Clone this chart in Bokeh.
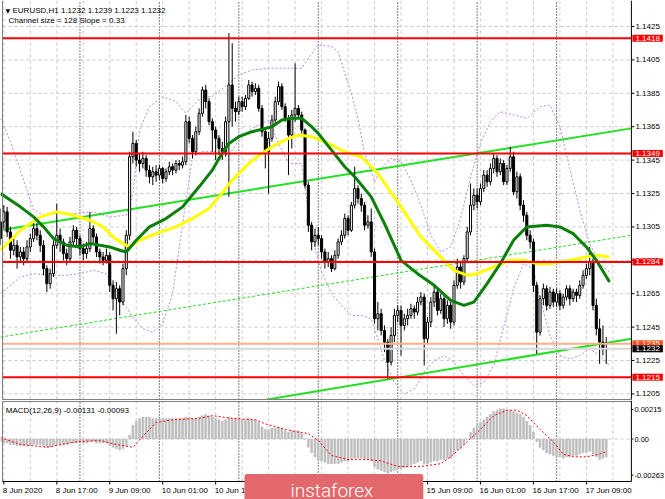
from bokeh.plotting import figure
from bokeh.layouts import column
from bokeh.models import Range1d, Label
from bokeh.embed import file_html
from bokeh.resources import INLINE
from bokeh.core.properties import value

# ---------------- data (EURUSD H1, 8 Jun 2020 00:00 .. 17 Jun 2020 15:00) ----------------
FIRST_OPEN = 1.1298
CLOSE = [
    # 8 Jun
    1.1308, 1.1314, 1.1302, 1.1291, 1.1294, 1.1287, 1.1290, 1.1286, 1.1293, 1.1298, 1.1304, 1.1300,
    1.1294, 1.1280, 1.1271, 1.1277, 1.1294, 1.1300, 1.1296, 1.1289, 1.1286, 1.1296, 1.1303, 1.1298,
    # 9 Jun
    1.1292, 1.1289, 1.1292, 1.1304, 1.1299, 1.1290, 1.1287, 1.1285, 1.1288, 1.1270, 1.1262, 1.1268,
    1.1260, 1.1280, 1.1300, 1.1347, 1.1355, 1.1345, 1.1343, 1.1346, 1.1339, 1.1335, 1.1338, 1.1336,
    # 10 Jun
    1.1340, 1.1334, 1.1338, 1.1341, 1.1339, 1.1343, 1.1342, 1.1344, 1.1368, 1.1358, 1.1350, 1.1362,
    1.1373, 1.1387, 1.1380, 1.1368, 1.1363, 1.1358, 1.1352, 1.1350, 1.1368, 1.1390, 1.1376, 1.1374,
    # 11 Jun
    1.1380, 1.1377, 1.1382, 1.1390, 1.1386, 1.1388, 1.1376, 1.1362, 1.1350, 1.1358, 1.1369, 1.1380,
    1.1389, 1.1377, 1.1370, 1.1360, 1.1372, 1.1376, 1.1372, 1.1363, 1.1330, 1.1306, 1.1296, 1.1300,
    # 12 Jun
    1.1298, 1.1290, 1.1284, 1.1286, 1.1280, 1.1288, 1.1296, 1.1300, 1.1310, 1.1303, 1.1318, 1.1328,
    1.1322, 1.1318, 1.1306, 1.1308, 1.1290, 1.1250, 1.1253, 1.1243, 1.1236, 1.1224, 1.1240, 1.1252,
    # 15 Jun
    1.1255, 1.1246, 1.1250, 1.1252, 1.1256, 1.1254, 1.1260, 1.1263, 1.1238, 1.1248, 1.1260, 1.1266,
    1.1255, 1.1262, 1.1250, 1.1258, 1.1248, 1.1270, 1.1281, 1.1272, 1.1286, 1.1302, 1.1318, 1.1324,
    # 16 Jun
    1.1320, 1.1328, 1.1336, 1.1332, 1.1340, 1.1346, 1.1338, 1.1343, 1.1332, 1.1340, 1.1347, 1.1326,
    1.1335, 1.1318, 1.1312, 1.1300, 1.1296, 1.1270, 1.1242, 1.1262, 1.1268, 1.1258, 1.1266, 1.1260,
    # 17 Jun
    1.1265, 1.1258, 1.1263, 1.1268, 1.1262, 1.1266, 1.1264, 1.1270, 1.1276, 1.1280, 1.1284, 1.1258,
    1.1244, 1.1236, 1.1232, 1.1232,
]
HIGH = [
    1.1316, 1.1318, 1.1317, 1.1305, 1.1298, 1.1297, 1.1293, 1.1293, 1.1297, 1.1301, 1.1309, 1.1307,
    1.1303, 1.1297, 1.1282, 1.1280, 1.1297, 1.1319, 1.1304, 1.1298, 1.1292, 1.1299, 1.1306, 1.1305,
    1.1300, 1.1295, 1.1296, 1.1314, 1.1306, 1.1301, 1.1292, 1.1290, 1.1292, 1.1290, 1.1273, 1.1272,
    1.1270, 1.1283, 1.1303, 1.1350, 1.1362, 1.1357, 1.1349, 1.1350, 1.1348, 1.1342, 1.1341, 1.1342,
    1.1342, 1.1341, 1.1340, 1.1344, 1.1343, 1.1345, 1.1345, 1.1347, 1.1372, 1.1371, 1.1360, 1.1365,
    1.1376, 1.1389, 1.1390, 1.1382, 1.1370, 1.1365, 1.1360, 1.1356, 1.1371, 1.1421, 1.1415, 1.1380,
    1.1383, 1.1383, 1.1384, 1.1393, 1.1392, 1.1391, 1.1390, 1.1378, 1.1364, 1.1362, 1.1372, 1.1383,
    1.1392, 1.1391, 1.1379, 1.1372, 1.1375, 1.1403, 1.1378, 1.1374, 1.1364, 1.1332, 1.1308, 1.1304,
    1.1305, 1.1300, 1.1292, 1.1290, 1.1288, 1.1291, 1.1298, 1.1303, 1.1313, 1.1312, 1.1320, 1.1341,
    1.1330, 1.1325, 1.1320, 1.1312, 1.1316, 1.1292, 1.1260, 1.1256, 1.1246, 1.1238, 1.1245, 1.1256,
    1.1258, 1.1258, 1.1253, 1.1256, 1.1259, 1.1258, 1.1263, 1.1266, 1.1265, 1.1251, 1.1263, 1.1270,
    1.1268, 1.1265, 1.1264, 1.1261, 1.1260, 1.1273, 1.1286, 1.1284, 1.1288, 1.1305, 1.1331, 1.1328,
    1.1328, 1.1331, 1.1339, 1.1339, 1.1343, 1.1349, 1.1348, 1.1346, 1.1345, 1.1342, 1.1353, 1.1350,
    1.1338, 1.1337, 1.1321, 1.1314, 1.1303, 1.1298, 1.1272, 1.1264, 1.1271, 1.1270, 1.1269, 1.1268,
    1.1268, 1.1267, 1.1265, 1.1270, 1.1270, 1.1268, 1.1268, 1.1273, 1.1279, 1.1283, 1.1293, 1.1286,
    1.1262, 1.1250, 1.1246, 1.1239,
]
LOW = [
    1.1294, 1.1304, 1.1299, 1.1286, 1.1288, 1.1280, 1.1284, 1.1282, 1.1284, 1.1290, 1.1296, 1.1297,
    1.1290, 1.1276, 1.1266, 1.1268, 1.1275, 1.1292, 1.1290, 1.1285, 1.1282, 1.1284, 1.1293, 1.1294,
    1.1288, 1.1285, 1.1286, 1.1290, 1.1295, 1.1287, 1.1283, 1.1282, 1.1283, 1.1266, 1.1255, 1.1241,
    1.1252, 1.1258, 1.1276, 1.1297, 1.1343, 1.1341, 1.1338, 1.1340, 1.1335, 1.1331, 1.1330, 1.1332,
    1.1333, 1.1331, 1.1332, 1.1336, 1.1336, 1.1337, 1.1339, 1.1340, 1.1342, 1.1355, 1.1346, 1.1348,
    1.1360, 1.1371, 1.1376, 1.1366, 1.1350, 1.1345, 1.1348, 1.1345, 1.1347, 1.1323, 1.1365, 1.1368,
    1.1372, 1.1374, 1.1375, 1.1381, 1.1383, 1.1384, 1.1374, 1.1359, 1.1340, 1.1325, 1.1356, 1.1366,
    1.1378, 1.1375, 1.1368, 1.1336, 1.1352, 1.1368, 1.1370, 1.1361, 1.1328, 1.1302, 1.1291, 1.1293,
    1.1294, 1.1286, 1.1280, 1.1281, 1.1278, 1.1279, 1.1286, 1.1294, 1.1298, 1.1300, 1.1302, 1.1316,
    1.1319, 1.1314, 1.1303, 1.1304, 1.1287, 1.1247, 1.1243, 1.1240, 1.1230, 1.1214, 1.1222, 1.1236,
    1.1248, 1.1228, 1.1243, 1.1246, 1.1250, 1.1250, 1.1252, 1.1258, 1.1222, 1.1235, 1.1245, 1.1257,
    1.1252, 1.1253, 1.1245, 1.1247, 1.1244, 1.1246, 1.1268, 1.1268, 1.1270, 1.1284, 1.1300, 1.1315,
    1.1316, 1.1318, 1.1326, 1.1329, 1.1330, 1.1337, 1.1335, 1.1336, 1.1330, 1.1330, 1.1338, 1.1324,
    1.1322, 1.1315, 1.1308, 1.1297, 1.1292, 1.1266, 1.1229, 1.1240, 1.1258, 1.1255, 1.1256, 1.1257,
    1.1257, 1.1255, 1.1256, 1.1261, 1.1258, 1.1260, 1.1260, 1.1262, 1.1268, 1.1274, 1.1276, 1.1255,
    1.1240, 1.1223, 1.1228, 1.1223,
]

# moving averages (bar index, price)
GREEN_MA_X = [0, 6, 10, 13, 16, 20, 24, 27, 30, 33, 36, 38, 41, 45, 50, 55, 60, 64, 66, 69, 72, 76,
              82, 85, 88, 91, 94, 96, 100, 104, 107, 112, 116, 121, 126, 131, 136, 140, 143, 147,
              151, 155, 159, 165, 169, 173, 177, 180, 184]
GREEN_MA_Y = [1.1325, 1.1317, 1.1311, 1.1305, 1.1298, 1.1294, 1.1293, 1.1295, 1.1294, 1.1293, 1.1291,
              1.1290, 1.1297, 1.1305, 1.1310, 1.1317, 1.1329, 1.1339, 1.1346, 1.1355, 1.1359, 1.1362,
              1.1365, 1.1369, 1.1370, 1.1370, 1.1365, 1.1361, 1.1351, 1.1341, 1.1335, 1.1323, 1.1307,
              1.1285, 1.1277, 1.1270, 1.1261, 1.1258, 1.1260, 1.1271, 1.1283, 1.1297, 1.1305, 1.1306,
              1.1305, 1.1301, 1.1293, 1.1285, 1.1272]
YELLOW_MA_X = [0, 6, 12, 17, 22, 27, 31, 34, 37, 39, 42, 47, 53, 58, 63, 66, 70, 75, 79, 82, 87, 90,
               94, 99, 104, 109, 114, 121, 127, 132, 137, 141, 144, 149, 154, 158, 162, 166, 172,
               177, 180, 184]
YELLOW_MA_Y = [1.1291, 1.1303, 1.1311, 1.1314, 1.1312, 1.1309, 1.1305, 1.1299, 1.1295, 1.1293, 1.1297,
               1.1301, 1.1305, 1.1310, 1.1316, 1.1323, 1.1333, 1.1343, 1.1349, 1.1353, 1.1358, 1.1360,
               1.1359, 1.1355, 1.1350, 1.1347, 1.1337, 1.1317, 1.1299, 1.1289, 1.1279, 1.1276, 1.1277,
               1.1281, 1.1285, 1.1285, 1.1283, 1.1283, 1.1285, 1.1287, 1.1288, 1.1287]

# Bollinger-type envelope (dotted violet)
BAND_UP_X = [0, 3, 6, 10, 13, 17, 23, 28, 33, 38, 40, 42, 45, 49, 53, 56, 61, 64, 69, 72, 76, 81, 87,
             91, 93, 96, 100, 102, 104, 106, 108, 110, 113, 115, 118, 121, 124, 127, 130, 133, 136,
             139, 142, 145, 148, 151, 155, 159, 163, 166, 169, 172, 175, 178, 181, 184]
BAND_UP_Y = [1.1370, 1.1356, 1.1339, 1.1315, 1.1312, 1.1313, 1.1313, 1.1314, 1.1311, 1.1312, 1.1325,
             1.1363, 1.1377, 1.1383, 1.1380, 1.1373, 1.1383, 1.1383, 1.1391, 1.1396, 1.1399, 1.1400,
             1.1400, 1.1400, 1.1406, 1.1414, 1.1413, 1.1410, 1.1397, 1.1385, 1.1370, 1.1349, 1.1332,
             1.1340, 1.1346, 1.1344, 1.1333, 1.1318, 1.1300, 1.1290, 1.1293, 1.1310, 1.1335, 1.1355,
             1.1368, 1.1374, 1.1372, 1.1370, 1.1377, 1.1378, 1.1365, 1.1340, 1.1315, 1.1295, 1.1283,
             1.1278]
BAND_LO_X = [0, 6, 10, 15, 20, 24, 28, 32, 35, 38, 40, 43, 46, 49, 52, 54, 56, 58, 61, 65, 69, 72, 76,
             81, 84, 87, 91, 94, 97, 100, 103, 106, 109, 112, 114, 116, 119, 122, 125, 128, 131, 134,
             137, 140, 143, 146, 149, 152, 155, 158, 161, 163, 166, 169, 172, 175, 178, 181, 184]
BAND_LO_Y = [1.1265, 1.1275, 1.1277, 1.1276, 1.1276, 1.1277, 1.1279, 1.1277, 1.1265, 1.1257, 1.1251,
             1.1244, 1.1242, 1.1247, 1.1265, 1.1293, 1.1320, 1.1347, 1.1350, 1.1350, 1.1348, 1.1357,
             1.1364, 1.1369, 1.1355, 1.1343, 1.1343, 1.1300, 1.1278, 1.1265, 1.1258, 1.1252, 1.1252,
             1.1250, 1.1238, 1.1225, 1.1212, 1.1205, 1.1208, 1.1218, 1.1225, 1.1228, 1.1224, 1.1216,
             1.1210, 1.1212, 1.1222, 1.1245, 1.1268, 1.1283, 1.1280, 1.1262, 1.1240, 1.1228, 1.1226,
             1.1228, 1.1232, 1.1228, 1.1222]

# trend channel (bar index, price) end points
CHANNEL_X = [0, 190.6]
CHANNEL_UPPER = [1.1303, 1.1364]
CHANNEL_MID = [1.1239, 1.1300]
CHANNEL_LOWER = [1.1175, 1.1238]

LEVELS = [1.1418, 1.1349, 1.1284, 1.1215]
ASK, BID = 1.1235, 1.1232

PRICE_TICKS = [1.1205, 1.1225, 1.1245, 1.1265, 1.1285, 1.1305, 1.1325, 1.1345, 1.1365, 1.1385,
               1.1405, 1.1425]
PRICE_TICK_LABELS = ["%.4f" % t for t in PRICE_TICKS]
DAY_STARTS = [24, 48, 72, 96, 120, 144, 168]
# time-scale labels visible on the chart (those under the logo are hidden in the original)
TIME_TICKS = [1, 17, 33, 49, 65, 129, 145, 161, 177]
TIME_LABELS = ["8 Jun 2020", "8 Jun 17:00", "9 Jun 09:00", "10 Jun 01:00", "10 Jun 17:00",
               "15 Jun 09:00", "16 Jun 01:00", "16 Jun 17:00", "17 Jun 09:00"]

MACD_HIST = [
    -0.0002, -0.0003, -0.0003, -0.0004, -0.0004, -0.0005, -0.0005, -0.0005, -0.0005, -0.0005, -0.0004, -0.0004,
    -0.0004, -0.0005, -0.0006, -0.0006, -0.0005, -0.0004, -0.0004, -0.0004, -0.0004, -0.0003, -0.0003, -0.0003,
    -0.0003, -0.0003, -0.0003, -0.0002, -0.0002, -0.0003, -0.0003, -0.0003, -0.0003, -0.0005, -0.0006, -0.0007,
    -0.0008, -0.0007, -0.0005, 0.0003, 0.0010, 0.0013, 0.0015, 0.0016, 0.0016, 0.0016, 0.0015, 0.0015,
    0.0015, 0.0015, 0.0015, 0.0015, 0.0015, 0.0015, 0.0015, 0.0015, 0.0016, 0.0016, 0.0015, 0.0015,
    0.0016, 0.0017, 0.0018, 0.0017, 0.0016, 0.0015, 0.0014, 0.0013, 0.0014, 0.0016, 0.0015, 0.0015,
    0.0015, 0.0014, 0.0014, 0.0015, 0.0014, 0.0014, 0.0012, 0.0009, 0.0007, 0.0007, 0.0008, 0.0008,
    0.0009, 0.0008, 0.0006, 0.0005, 0.0006, 0.0006, 0.0006, 0.0004, 0.0000, -0.0006, -0.0010, -0.0013,
    -0.0015, -0.0016, -0.0017, -0.0018, -0.0018, -0.0018, -0.0018, -0.0017, -0.0016, -0.0016, -0.0015, -0.0014,
    -0.0014, -0.0014, -0.0015, -0.0015, -0.0016, -0.0020, -0.0022, -0.0023, -0.0024, -0.0025, -0.0024, -0.0023,
    -0.0022, -0.0022, -0.0021, -0.0020, -0.0019, -0.0018, -0.0017, -0.0016, -0.0018, -0.0018, -0.0017, -0.0016,
    -0.0016, -0.0015, -0.0015, -0.0014, -0.0014, -0.0011, -0.0008, -0.0007, -0.0004, 0.0000, 0.0005, 0.0008,
    0.0010, 0.0012, 0.0014, 0.0016, 0.0018, 0.0020, 0.0021, 0.0022, 0.0022, 0.0021, 0.0021, 0.0020,
    0.0019, 0.0018, 0.0016, 0.0013, 0.0010, 0.0005, -0.0002, -0.0006, -0.0008, -0.0010, -0.0011, -0.0012,
    -0.0013, -0.0013, -0.0014, -0.0013, -0.0013, -0.0012, -0.0012, -0.0011, -0.0010, -0.0010, -0.0009, -0.0011,
    -0.0013, -0.0015, -0.0014, -0.00131,
]
SIGNAL_X = [0, 6, 14, 23, 30, 35, 40, 43, 47, 52, 60, 64, 70, 77, 80, 86, 90, 93, 96, 100, 105, 111,
            115, 120, 127, 133, 136, 141, 145, 149, 153, 156, 159, 163, 167, 170, 173, 177, 181, 183]
SIGNAL_Y = [0.0001, -0.0004, -0.0006, -0.0002, -0.0001, -0.0004, -0.0006, 0.0002, 0.0012, 0.0014,
            0.0015, 0.0017, 0.0015, 0.0014, 0.0011, 0.0007, 0.0005, 0.0004, -0.0001, -0.0012, -0.0015,
            -0.0015, -0.0016, -0.0020, -0.0020, -0.0018, -0.0013, -0.0002, 0.0007, 0.0017, 0.0021,
            0.0021, 0.0017, 0.0007, -0.0002, -0.0011, -0.0013, -0.0013, -0.0011, -0.00093]
MACD_TICKS = [0.00215, 0.0, -0.00263]
MACD_TICK_LABELS = ["0.00215", "0.00", "-0.00263"]

# ---------------- derived candle geometry ----------------
N = len(CLOSE)
IDX = list(range(N))
OPEN = [FIRST_OPEN] + CLOSE[:-1]
HI = [max(h, o, c) for h, o, c in zip(HIGH, OPEN, CLOSE)]
LO = [min(l, o, c) for l, o, c in zip(LOW, OPEN, CLOSE)]
UP = [i for i in IDX if CLOSE[i] >= OPEN[i]]
DN = [i for i in IDX if CLOSE[i] < OPEN[i]]

# ---------------- geometry / styling ----------------
FONT = "Liberation Sans"
PXB = 3.31                      # pixels per bar
X_LEFT = 0.6                    # bar at chart's left border
X_AXIS = 190.6                  # bar at the price-axis line
X_RANGE = (X_LEFT - 2 / PXB, X_LEFT + 663 / PXB)
P_PPU = 16700.0                 # px per price unit
P_RANGE = (1.1425 - 374 / P_PPU, 1.1425 + 26 / P_PPU)
P_FLOOR = 1.1425 - 373 / P_PPU  # bottom border of main panel
M_PPU = 13722.0
M_RANGE = (-(499 - 438.5) / M_PPU, (438.5 - 400) / M_PPU)
M_TOP = (438.5 - 401) / M_PPU
M_FLOOR = -(481 - 438.5) / M_PPU
GRID_BARS = list(range(1, 190, 8))
GRID_COLOR = "#C8C8C8"
BAND_COLOR = "#BD84EA"


def mk(height, yr):
    f = figure(width=665, height=height, x_range=Range1d(*X_RANGE), y_range=Range1d(*yr),
               x_axis_location=None, y_axis_location=None, output_backend="svg",
               toolbar_location=None, min_border=0, min_border_left=0, min_border_right=0,
               min_border_top=0, min_border_bottom=0, outline_line_color=None,
               background_fill_color="white", border_fill_color="white")
    f.xgrid.visible = False
    f.ygrid.visible = False
    return f


def panel_frame(f, y_lo, y_hi):
    # vertical grid + day separators
    f.segment(x0=GRID_BARS, y0=[y_lo] * len(GRID_BARS), x1=GRID_BARS, y1=[y_hi] * len(GRID_BARS),
              line_color=GRID_COLOR, line_dash="3 3", line_width=1)
    f.segment(x0=DAY_STARTS, y0=[y_lo] * len(DAY_STARTS), x1=DAY_STARTS,
              y1=[y_hi] * len(DAY_STARTS), line_color="black", line_dash="1 2", line_width=1)


# ======================= main price panel =======================
p = mk(400, P_RANGE)
panel_frame(p, P_FLOOR, P_RANGE[1])
p.segment(x0=[X_LEFT] * len(PRICE_TICKS), y0=PRICE_TICKS, x1=[X_AXIS] * len(PRICE_TICKS),
          y1=PRICE_TICKS, line_color=GRID_COLOR, line_dash="3 3", line_width=1)

# envelope
p.line(BAND_UP_X, BAND_UP_Y, line_color=BAND_COLOR, line_dash="2 2", line_width=1)
p.line(BAND_LO_X, BAND_LO_Y, line_color=BAND_COLOR, line_dash="2 2", line_width=1)

# channel
p.line(CHANNEL_X, CHANNEL_MID, line_color="#22E022", line_dash="3 2", line_width=1)
p.line(CHANNEL_X, CHANNEL_UPPER, line_color="#22E022", line_width=2)
p.line(CHANNEL_X, CHANNEL_LOWER, line_color="#22E022", line_width=2)

# candles
p.segment(x0=IDX, y0=LO, x1=IDX, y1=HI, line_color="black", line_width=1)
p.vbar(x=UP, width=0.62, top=[CLOSE[i] for i in UP], bottom=[OPEN[i] for i in UP],
       fill_color="white", line_color="black", line_width=1)
p.vbar(x=DN, width=0.62, top=[OPEN[i] for i in DN], bottom=[CLOSE[i] for i in DN],
       fill_color="black", line_color="black", line_width=1)

# moving averages
p.line(YELLOW_MA_X, YELLOW_MA_Y, line_color="#FFFF00", line_width=3)
p.line(GREEN_MA_X, GREEN_MA_Y, line_color="#0A800A", line_width=3)

# horizontal levels, ask / bid
p.segment(x0=[X_LEFT] * len(LEVELS), y0=LEVELS, x1=[X_AXIS] * len(LEVELS), y1=LEVELS,
          line_color="#FF0000", line_width=2)
p.segment(x0=[X_LEFT], y0=[ASK], x1=[X_AXIS], y1=[ASK], line_color="#FFB08A", line_width=2)
p.segment(x0=[X_LEFT], y0=[BID], x1=[X_AXIS], y1=[BID], line_color="#D8D8D8", line_width=2)

# borders and price scale
p.segment(x0=[X_LEFT, X_LEFT], y0=[P_FLOOR, P_FLOOR], x1=[X_LEFT, X_AXIS], y1=[P_RANGE[1], P_FLOOR],
          line_color="#808080", line_width=1)
p.segment(x0=[X_AXIS], y0=[P_FLOOR], x1=[X_AXIS], y1=[P_RANGE[1]], line_color="black", line_width=1)
p.segment(x0=[X_AXIS] * len(PRICE_TICKS), y0=PRICE_TICKS,
          x1=[X_AXIS + 3 / PXB] * len(PRICE_TICKS), y1=PRICE_TICKS, line_color="black", line_width=1)
p.text(x=[X_AXIS + 4 / PXB] * len(PRICE_TICKS), y=PRICE_TICKS, text=PRICE_TICK_LABELS,
       text_font=value(FONT), text_font_size="8px", text_align="left", text_baseline="middle",
       text_color="black")


def axis_box(fig, y, text, bg):
    fig.add_layout(Label(x=X_AXIS, y=y, x_offset=1, text=text, text_align="left",
                         text_baseline="middle", text_font=FONT, text_font_size="8px",
                         text_color="white", background_fill_color=bg, background_fill_alpha=1.0,
                         padding=dict(top=1, right=3, bottom=1, left=3)))


for lv in LEVELS:
    axis_box(p, lv, "%.4f" % lv, "#FF0000")
axis_box(p, ASK, "%.4f" % ASK, "#FF4A1A")
axis_box(p, BID, "%.4f" % BID, "#000000")

p.add_layout(Label(x=1.5, y=1.14346, text="\u25bc", text_font="DejaVu Sans",
                   text_font_size="6px", text_baseline="middle", text_color="black"))
p.add_layout(Label(x=3.62, y=1.14346,
                   text="EURUSD,H1  1.1232 1.1239 1.1223 1.1232",
                   text_font=FONT, text_font_size="8px", text_baseline="middle",
                   text_color="black"))
p.add_layout(Label(x=2.41, y=1.14286, text="Channel size = 128 Slope = 0.33",
                   text_font=FONT, text_font_size="8px", text_baseline="middle",
                   text_color="black"))

# ======================= MACD panel =======================
q = mk(99, M_RANGE)
panel_frame(q, M_FLOOR, M_TOP)
q.segment(x0=[X_LEFT], y0=[0.0], x1=[X_AXIS], y1=[0.0], line_color=GRID_COLOR, line_dash="3 3",
          line_width=1)
q.vbar(x=IDX, width=0.6, top=MACD_HIST, bottom=0, fill_color="#BDBDBD", line_color="#BDBDBD",
       line_width=0.5)
q.line(SIGNAL_X, SIGNAL_Y, line_color="#FF0000", line_dash="2 2", line_width=1)

# borders, MACD scale, time axis
q.segment(x0=[X_LEFT, X_LEFT], y0=[M_TOP, M_FLOOR], x1=[X_AXIS, X_LEFT], y1=[M_TOP, M_TOP],
          line_color="#808080", line_width=1)
q.segment(x0=[X_AXIS, X_LEFT], y0=[M_RANGE[1], M_FLOOR], x1=[X_AXIS, X_AXIS], y1=[M_FLOOR, M_FLOOR],
          line_color="black", line_width=1)
q.segment(x0=[X_AXIS] * len(MACD_TICKS), y0=MACD_TICKS, x1=[X_AXIS + 2 / PXB] * len(MACD_TICKS),
          y1=MACD_TICKS, line_color="black", line_width=1)
q.text(x=[X_AXIS + 3 / PXB] * len(MACD_TICKS), y=MACD_TICKS, text=MACD_TICK_LABELS,
       text_font=value(FONT), text_font_size="7.5px", text_align="left", text_baseline="middle",
       text_color="black")
q.segment(x0=TIME_TICKS, y0=[M_FLOOR] * len(TIME_TICKS), x1=TIME_TICKS,
          y1=[M_FLOOR - 3 / M_PPU] * len(TIME_TICKS), line_color="black", line_width=1)
q.text(x=[t - 0.3 for t in TIME_TICKS], y=[M_FLOOR - 4 / M_PPU] * len(TIME_TICKS), text=TIME_LABELS,
       text_font=value(FONT), text_font_size="8px", text_align="left", text_baseline="top",
       text_color="black")

q.add_layout(Label(x=1.6, y=0.00208, text="MACD(12,26,9) -0.00131 -0.00093",
                   text_font=FONT, text_font_size="8px", text_baseline="middle",
                   text_color="black"))

q.add_layout(Label(x=73.7, y=-(489 - 438.5) / M_PPU, text="instaforex",
                   text_font="'Roboto Light', Roboto",
                   text_font_size="19px", text_color="white", text_align="left",
                   text_baseline="alphabetic", background_fill_color="#E3686C",
                   background_fill_alpha=1.0, border_radius=3,
                   padding=dict(top=5, right=50, bottom=3, left=46)))

layout = column(p, q, spacing=0)
open("out.html", "w").write(file_html(layout, INLINE))
